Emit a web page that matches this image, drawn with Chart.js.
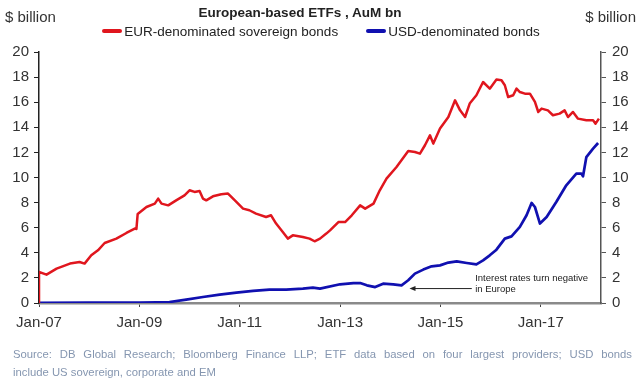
<!DOCTYPE html>
<html>
<head>
<meta charset="utf-8">
<script src="https://cdn.jsdelivr.net/npm/chart.js@4/dist/chart.umd.min.js"></script>
<style>
  html, body { margin: 0; padding: 0; background: #fff; }
  #wrap { position: relative; width: 640px; height: 382px; overflow: hidden; font-family: "Liberation Sans", Arial, sans-serif; }
  #c { position: absolute; left: 0; top: 0; }
  .t { position: absolute; white-space: nowrap; color: #222; }
  #title { left: 0; width: 600px; top: 5px; text-align: center; font-weight: bold; font-size: 13.5px; }
  #ylab { left: 5px; top: 8px; font-size: 15px; color: #333; }
  #ylab2 { right: 4px; top: 8px; font-size: 15px; color: #333; }
  #legend { left: 0; width: 642px; top: 24px; text-align: center; font-size: 13.5px; }
  #legend span.item { display: inline-block; margin: 0 14px; }
  #legend i { display: inline-block; width: 20px; height: 4px; vertical-align: middle; margin-right: 2px; border-radius: 2px; position: relative; top: -1px; }
  #src1 { left: 13px; width: 619px; top: 348px; font-size: 11.3px; color: #8596b0; text-align: justify; text-align-last: justify; white-space: normal; }
  #src2 { left: 13px; top: 366px; font-size: 11.3px; color: #8596b0; }
</style>
</head>
<body>
<div id="wrap">
  <canvas id="c" width="640" height="382"></canvas>
  <div class="t" id="title">European-based ETFs , AuM bn</div>
  <div class="t" id="ylab">$ billion</div>
  <div class="t" id="ylab2">$ billion</div>
  <div class="t" id="legend"><span class="item"><i style="background:#e0161e"></i>EUR-denominated sovereign bonds</span><span class="item"><i style="background:#1010b0"></i>USD-denominated bonds</span></div>
  <div class="t" id="src1">Source: DB Global Research; Bloomberg Finance LLP; ETF data based on four largest providers; USD bonds</div>
  <div class="t" id="src2">include US sovereign, corporate and EM</div>
</div>
<script>
// ---- Data (x = months since Jan-2007, y = $ billion) ----
const eurMonths = [0, 0, 1.8, 4.2, 7.4, 9.7, 10.9, 12.5, 14.1, 15.7, 18.5, 20.9, 22.9, 23.3, 23.6, 25.7, 27.7, 28.5, 29.3, 30.9,
  32.8, 34.8, 36, 37.2, 38.4, 39.2, 40, 41.6, 43.6, 45.2, 46, 47.2, 48.8, 50.3, 51.9, 54.3, 55.5, 56.7, 58.3, 59.5,
  60.7, 63.1, 64.7, 65.9, 67.2, 68.7, 69.6, 71.6, 73.2, 74.8, 76.8, 78, 80, 81.5, 83.1, 85.5, 88.3, 89.9, 91.1, 92.3,
  93.5, 94.3, 95.9, 97.9, 99.5, 100.7, 101.9, 103, 104.6, 106.2, 107.8, 109.4, 110.6, 111.4, 112.2, 113.4, 114.2, 115, 116.2, 117.4,
  118.6, 119.4, 120.2, 121.7, 122.9, 124.5, 125.7, 126.5, 127.7, 128.9, 130.9, 132.5, 133.1, 133.9];
const eurValues = [0, 2.47, 2.26, 2.74, 3.14, 3.27, 3.14, 3.8, 4.2, 4.78, 5.13, 5.58, 5.93, 5.9, 7.1, 7.65, 7.92, 8.32, 7.92, 7.78,
  8.18, 8.58, 8.98, 8.85, 8.92, 8.32, 8.18, 8.5, 8.66, 8.72, 8.45, 8.05, 7.52, 7.39, 7.12, 6.85, 6.99, 6.33, 5.66, 5.13,
  5.39, 5.26, 5.13, 4.92, 5.13, 5.53, 5.79, 6.45, 6.45, 6.99, 7.78, 7.52, 7.92, 8.98, 9.91, 10.84, 12.11, 12.03, 11.9, 12.57,
  13.36, 12.7, 13.9, 14.82, 16.15, 15.35, 14.82, 15.89, 16.55, 17.61, 17.08, 17.8, 17.75, 17.35, 16.41, 16.55, 17.08, 16.81, 16.68, 16.68,
  16.02, 15.22, 15.49, 15.35, 14.96, 15.09, 15.35, 14.82, 15.22, 14.69, 14.56, 14.56, 14.29, 14.69];

const usdMonths = [0, 12, 24, 28, 31.2, 35.2, 39.2, 43.2, 47.2, 51.2, 55.1, 59.1, 63.1, 65.5, 67.2, 72, 75.2, 76.8, 78.4, 80.4,
  82.3, 84.7, 86.7, 88.3, 89.9, 91.9, 93.9, 95.9, 97.9, 99.9, 102.3, 104.6, 106.2, 107.8, 109.4, 111.4, 113, 115, 116.6, 117.8,
  118.6, 119.8, 121.4, 123.7, 126.1, 128.5, 129.7, 130.1, 130.9, 132.5, 133.7];
const usdValues = [0.02, 0.03, 0.03, 0.05, 0.08, 0.27, 0.48, 0.67, 0.83, 0.96, 1.07, 1.07, 1.15, 1.23, 1.15, 1.49, 1.59, 1.59, 1.41, 1.27,
  1.54, 1.49, 1.41, 1.81, 2.34, 2.66, 2.92, 3.0, 3.22, 3.32, 3.19, 3.08, 3.4, 3.8, 4.25, 5.13, 5.31, 6.06, 6.99, 7.97,
  7.65, 6.33, 6.85, 8.05, 9.38, 10.31, 10.31, 10.1, 11.63, 12.3, 12.75];

const xTickMonths = [0, 24, 48, 72, 96, 120];
const xTickLabels = ['Jan-07', 'Jan-09', 'Jan-11', 'Jan-13', 'Jan-15', 'Jan-17'];
const xMaxMonth = 134.4;
const yTickValues = [0, 2, 4, 6, 8, 10, 12, 14, 16, 18, 20];

// annotation (data coordinates)
const noteLines = ['Interest rates turn negative', 'in Europe'];
const noteTextMonth = 104.3;
const noteLineValues = [1.94, 1.07];
const noteArrowFromMonth = 103.5;
const noteArrowToMonth = 88.6;
const noteArrowValue = 1.15;

const seriesNames = ['EUR-denominated sovereign bonds', 'USD-denominated bonds'];

const toPoints = (xs, ys) => xs.map((m, i) => ({ x: m, y: ys[i] }));

const annotationPlugin = {
  id: 'note',
  afterDatasetsDraw(chart) {
    const ctx = chart.ctx, xs = chart.scales.x, ys = chart.scales.y;
    ctx.save();
    const x1 = xs.getPixelForValue(noteArrowFromMonth);
    const x2 = xs.getPixelForValue(noteArrowToMonth);
    const ya = ys.getPixelForValue(noteArrowValue);
    ctx.strokeStyle = '#222'; ctx.fillStyle = '#222'; ctx.lineWidth = 1;
    ctx.beginPath(); ctx.moveTo(x1, ya); ctx.lineTo(x2 + 4, ya); ctx.stroke();
    ctx.beginPath(); ctx.moveTo(x2, ya); ctx.lineTo(x2 + 6, ya - 2.5); ctx.lineTo(x2 + 6, ya + 2.5); ctx.closePath(); ctx.fill();
    ctx.font = '9.5px "Liberation Sans", Arial, sans-serif';
    ctx.textBaseline = 'middle'; ctx.textAlign = 'left';
    const tx = xs.getPixelForValue(noteTextMonth);
    noteLines.forEach((t, i) => ctx.fillText(t, tx, ys.getPixelForValue(noteLineValues[i])));
    ctx.restore();
  }
};

new Chart(document.getElementById('c'), {
  type: 'line',
  data: {
    datasets: [
      { label: seriesNames[0], data: toPoints(eurMonths, eurValues), borderColor: '#e0161e', backgroundColor: '#e0161e',
        borderWidth: 2.5, pointRadius: 0, tension: 0, borderJoinStyle: 'round', yAxisID: 'y' },
      { label: seriesNames[1], data: toPoints(usdMonths, usdValues), borderColor: '#1010b0', backgroundColor: '#1010b0',
        borderWidth: 2.7, pointRadius: 0, tension: 0, borderJoinStyle: 'round', yAxisID: 'y' }
    ]
  },
  options: {
    responsive: false,
    animation: false,
    layout: { padding: { top: 52, left: 0, right: 0, bottom: 0 } },
    plugins: { legend: { display: false }, title: { display: false }, tooltip: { enabled: false } },
    scales: {
      x: {
        type: 'linear', min: 0, max: xMaxMonth,
        afterBuildTicks: s => { s.ticks = xTickMonths.map(v => ({ value: v })); },
        afterFit: s => { s.height = 79; },
        ticks: { callback: v => xTickLabels[xTickMonths.indexOf(v)] ?? '', color: '#333', padding: 7, maxRotation: 0, autoSkip: false,
          font: { family: '"Liberation Sans", Arial, sans-serif', size: 15 } },
        grid: { drawOnChartArea: false, drawTicks: true, tickLength: 4, tickColor: '#444', tickWidth: 1 },
        border: { color: '#8a8a8a', width: 2.5 }
      },
      y: {
        position: 'left', min: 0, max: 20,
        afterBuildTicks: s => { s.ticks = yTickValues.map(v => ({ value: v })); },
        afterFit: s => { s.width = 39; },
        ticks: { color: '#333', padding: 5, font: { family: '"Liberation Sans", Arial, sans-serif', size: 15 } },
        grid: { drawOnChartArea: false, drawTicks: true, tickLength: 5, tickColor: '#222', tickWidth: 1 },
        border: { color: '#222', width: 1.5 }
      },
      y2: {
        position: 'right', min: 0, max: 20,
        afterBuildTicks: s => { s.ticks = yTickValues.map(v => ({ value: v })); },
        afterFit: s => { s.width = 39; },
        ticks: { color: '#333', padding: 6, font: { family: '"Liberation Sans", Arial, sans-serif', size: 15 } },
        grid: { drawOnChartArea: false, drawTicks: true, tickLength: 5, tickColor: '#555', tickWidth: 1 },
        border: { color: '#555', width: 1.5 }
      }
    }
  },
  plugins: [annotationPlugin]
});
</script>
</body>
</html>
